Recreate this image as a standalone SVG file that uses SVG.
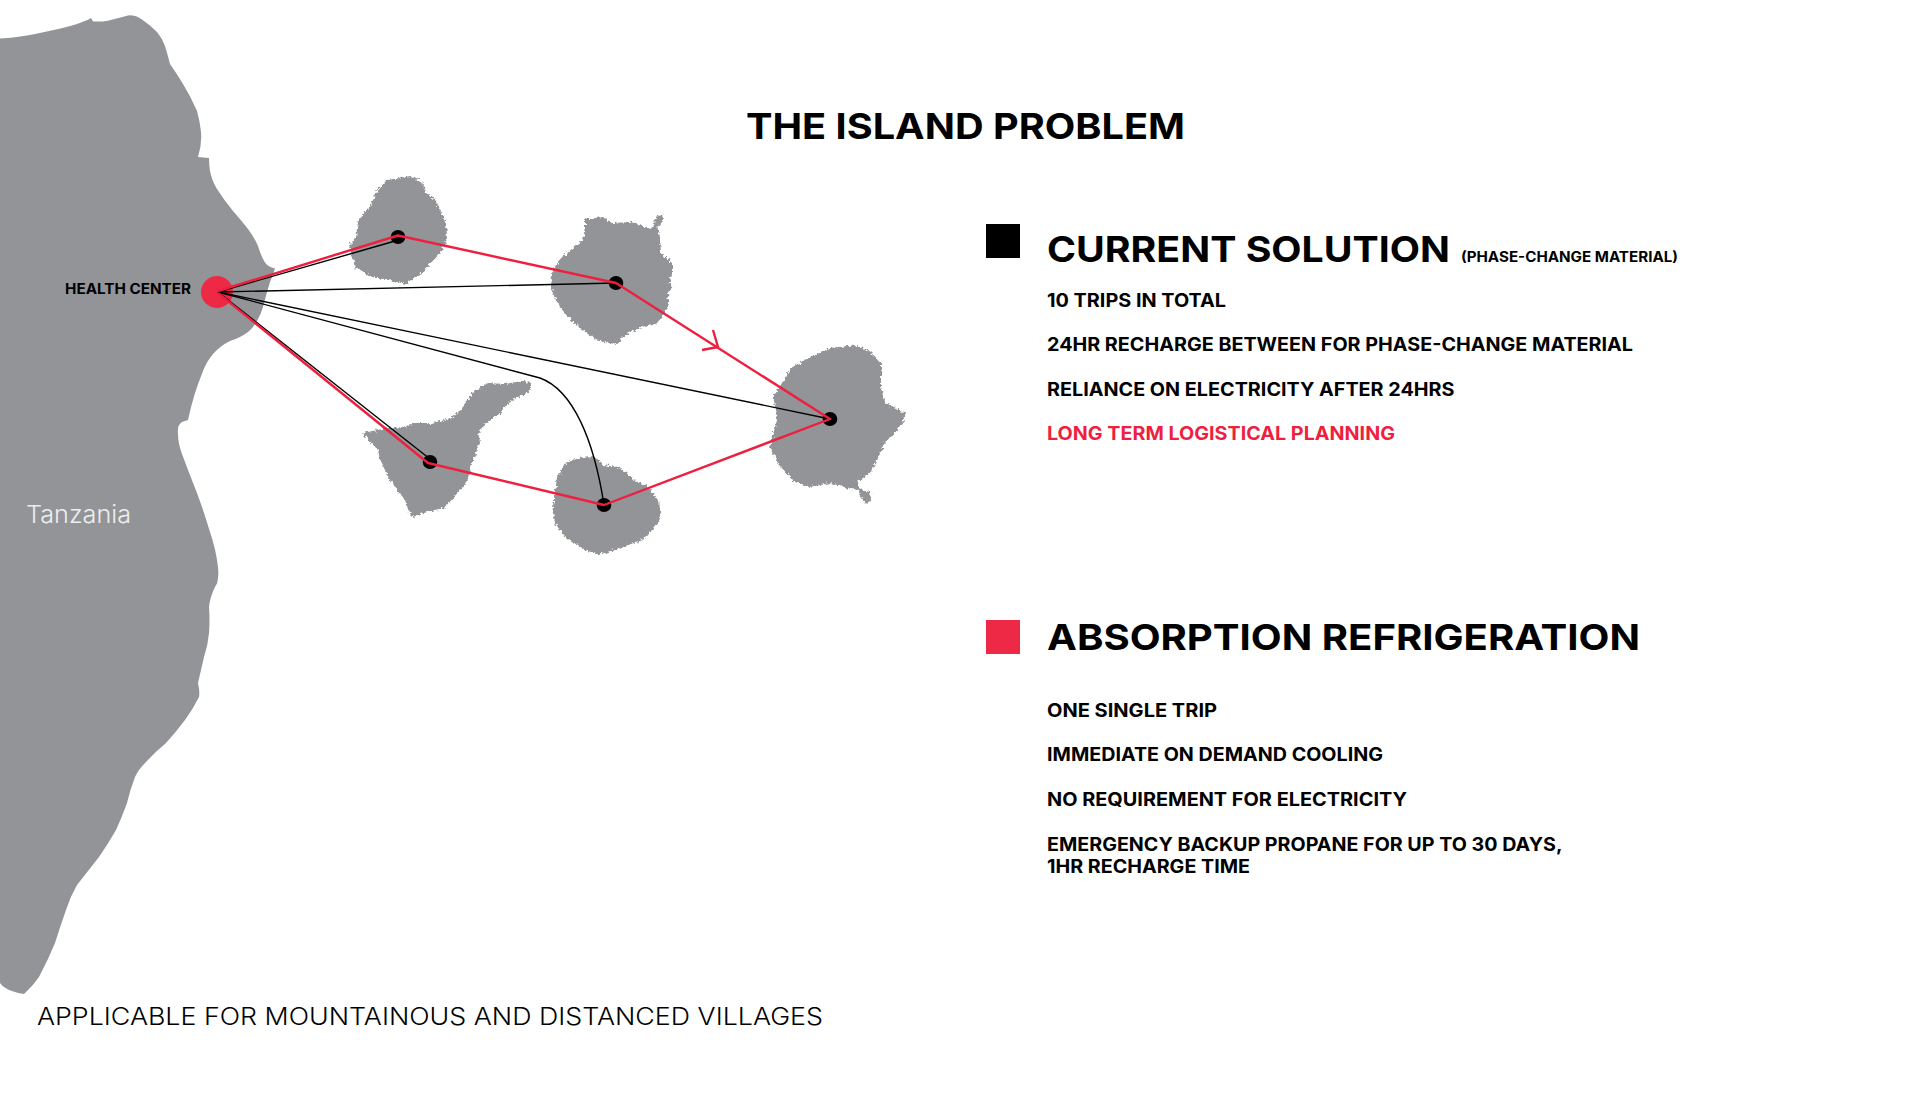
<svg xmlns="http://www.w3.org/2000/svg" width="1920" height="1094" viewBox="0 0 1920 1094">
<style>
text{font-family:"Inter","Liberation Sans",sans-serif;font-weight:700;fill:#000}
.h{font-size:36px}
.b{font-size:18.5px}
.l{font-weight:300}
.land{fill:#929497}
.isl{fill:#929497;filter:url(#rough)}
.dot{fill:#000}
.red{fill:none;stroke:#ee1f3f;stroke-width:2.4;stroke-linejoin:round}
.blk{fill:none;stroke:#000;stroke-width:1.4}
</style>
<defs>
<filter id="rough" x="-5%" y="-5%" width="110%" height="110%">
<feTurbulence type="fractalNoise" baseFrequency="0.35" numOctaves="3" seed="4"/>
<feDisplacementMap in="SourceGraphic" scale="6" xChannelSelector="R" yChannelSelector="G"/>
</filter>
</defs>
<rect width="1920" height="1094" fill="#fff"/>
<g id="mainland">
<path class="land" d="M0 38.6Q23 36.8 35 34Q47 31.4 59.5 28.7Q72 26 81 22.5Q88 20 91 18L93 21.4Q100 22 108 20.7Q118 18 128 15.4Q136 15 142 19.6Q150 25 157 32Q162 38 165 46Q168 56 170 64Q177 74 183 84Q191 97 197 111Q200 122 201 132Q202 145 198 157L209 158Q209 165 210 171Q212 181 217 189Q224 200 233 211Q241 220 248 229Q254 237 258 246Q261 256 265 262.5Q268 267 275 268.5Q273 275 270 282Q266 295 263 307Q261 314 257 321Q253 328 248 332Q240 338 230 341Q220 346 213 354Q207 361 203 371Q199 381 195 393Q191 406 188 420L182 422Q177 425 178 434Q178 443 182 454Q189 473 197 493Q204 512 210 532Q215 547 217 560Q219 573 218 578Q218 583 215 587Q210 597 209 607Q210 620 209 633Q208 645 204 657Q201 670 198 683Q200 692 199 697Q193 709 185 720Q176 732 166 743Q155 752 146 762Q138 770 135 777Q130 790 127 803Q122 817 116 830Q108 844 99 857Q88 871 77 885Q70 897 66 910Q60 927 55 943Q48 960 39 977Q32 987 24 994Q12 992 5.5 988Q2 986 0 983Z"/>
<text class="l" x="26" y="523" font-size="24" textLength="105" lengthAdjust="spacingAndGlyphs" style="fill:#eee">Tanzania</text>
</g>
<g id="island-1"><polygon class="isl" points="410,176 422,182 426,192 435,200 441,212 446,222 447,238 441,252 431,263 422,273 406,284 389,280 372,277 356,268 352,255 350,244 356,238 358,220 370,207 377.5,190 387,180 400.5,178"/></g>
<g id="island-2"><polygon class="isl" points="585,218 589,219 602.5,217 612,223 631,222 650.5,229 654,225 655,217 662,215 663,220 657.5,228 660,237 661,253 672,263 672,275 669,283 674,287 668,292 669,305 658,323 639,328 622,337 618,344 608,343 593,338 579,327 564,313 556,300 551,288 552.5,270 562,257 583,240 585,227"/></g>
<g id="island-3"><polygon class="isl" points="362,433 388,428 403.5,427 417,423 432,423 451.5,418 463,407 473,392 488,383 505,384 525,380 531,384 528.5,392 509,402 498,415 484,425 478.5,433 480,443 473,460 467,482 451.5,500 444,508 423,513 413,517 409,513 405,500 390,480 380,460 378,450"/></g>
<g id="island-4"><polygon class="isl" points="578,458 596,457 601.5,465 619,467 634,480 646,485 659,500 661,517 655,527 642,540 623,547 599.5,555 584,550 565,537 555,523 552.6,510 555,493 557,477 565,463"/></g>
<g id="island-5"><polygon class="isl" points="829,348 858,345 870,352 881,362 881,387 885,403 895,408 906,414 903,422 895,433 885,443 877,460 870,473 858,482 859,488 864,491 870,492 871,500 866,504 862,498 858,490 845,488 831,483 810,487 795,482 779,465 770,447 777,420 773.5,397 791,368 810,357"/></g>
<g id="hub"><circle cx="217" cy="292" r="16" fill="#ee2945"/><text x="65" y="294" font-size="14" textLength="126" lengthAdjust="spacingAndGlyphs">HEALTH CENTER</text></g>
<g id="stop-1"><ellipse class="dot" cx="398" cy="237" rx="7.3" ry="7"/></g>
<g id="stop-2"><ellipse class="dot" cx="616" cy="283" rx="7.3" ry="7"/></g>
<g id="stop-3"><ellipse class="dot" cx="430" cy="462" rx="7.3" ry="7"/></g>
<g id="stop-4"><ellipse class="dot" cx="604" cy="505" rx="7.3" ry="7"/></g>
<g id="stop-5"><ellipse class="dot" cx="830" cy="419" rx="7.3" ry="7"/></g>
<g id="connectors">
<path class="blk" d="M218 292L395 241"/>
<path class="blk" d="M218 292L616 283"/>
<path class="blk" d="M218 292L830 419"/>
<path class="blk" d="M218 292L540 378C573 390 594 440 604 505"/>
<path class="blk" d="M218 292L430 459"/>
<path class="red" d="M218 291L398 235.500L616 283L830 419L604 505L428 463L218 293"/>
<path class="red" d="M713 330L718 347L702 350"/>
</g>
<g id="title"><text class="h" x="746" y="139" textLength="439" lengthAdjust="spacingAndGlyphs">THE ISLAND PROBLEM</text></g>
<g id="current-solution">
<rect x="986" y="224" width="34" height="34" fill="#000"/>
<text class="h" x="1047" y="262" textLength="403" lengthAdjust="spacingAndGlyphs">CURRENT SOLUTION</text>
<text x="1461" y="262" font-size="14" textLength="217" lengthAdjust="spacingAndGlyphs">(PHASE-CHANGE MATERIAL)</text>
<text class="b" x="1047" y="307" textLength="179" lengthAdjust="spacingAndGlyphs">10 TRIPS IN TOTAL</text>
<text class="b" x="1047" y="351" textLength="586" lengthAdjust="spacingAndGlyphs">24HR RECHARGE BETWEEN FOR PHASE-CHANGE MATERIAL</text>
<text class="b" x="1047" y="396" textLength="407.500" lengthAdjust="spacingAndGlyphs">RELIANCE ON ELECTRICITY AFTER 24HRS</text>
<text class="b" x="1047" y="440" textLength="348" lengthAdjust="spacingAndGlyphs" style="fill:#ee1f3f">LONG TERM LOGISTICAL PLANNING</text>
</g>
<g id="absorption-refrigeration">
<rect x="986" y="620" width="34" height="34" fill="#ee2945"/>
<text class="h" x="1047" y="650" textLength="593" lengthAdjust="spacingAndGlyphs">ABSORPTION REFRIGERATION</text>
<text class="b" x="1047" y="716.500" textLength="170" lengthAdjust="spacingAndGlyphs">ONE SINGLE TRIP</text>
<text class="b" x="1047" y="760.500" textLength="336" lengthAdjust="spacingAndGlyphs">IMMEDIATE ON DEMAND COOLING</text>
<text class="b" x="1047" y="805.500" textLength="360" lengthAdjust="spacingAndGlyphs">NO REQUIREMENT FOR ELECTRICITY</text>
<text class="b" x="1047" y="851" textLength="515.500" lengthAdjust="spacingAndGlyphs">EMERGENCY BACKUP PROPANE FOR UP TO 30 DAYS,</text>
<text class="b" x="1047" y="873" textLength="203" lengthAdjust="spacingAndGlyphs">1HR RECHARGE TIME</text>
</g>
<g id="footnote"><text class="l" x="37" y="1025" font-size="24" textLength="786" lengthAdjust="spacingAndGlyphs">APPLICABLE FOR MOUNTAINOUS AND DISTANCED VILLAGES</text></g>
</svg>
